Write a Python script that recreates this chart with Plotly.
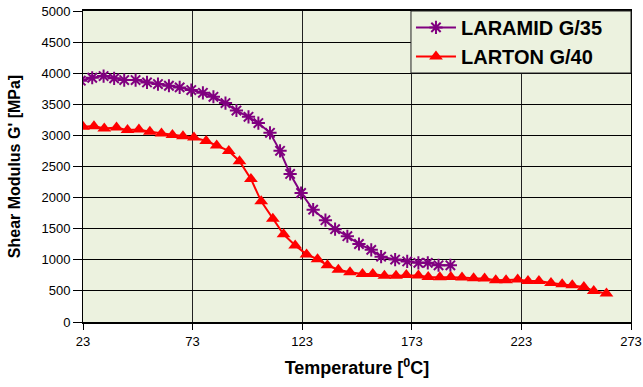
import plotly.graph_objects as go

# LARAMID G/35
laramid_temp = [22, 27.2, 32.4, 37.2, 41.8, 47, 52.2, 57.2, 62.2, 67.1, 72.4, 77.7, 82.5, 88, 93,
                98.5, 103, 108.3, 112.9, 117.5, 122.5, 128, 133.6, 138, 143.6, 148.9, 154.5,
                159, 165.4, 170.9, 176, 180.3, 185.2, 190.6]
laramid_g = [3880, 3927, 3954, 3917, 3890, 3890, 3852, 3825, 3798, 3772, 3729, 3685, 3621, 3520, 3400,
             3299, 3198, 3042, 2752, 2380, 2074, 1806, 1637, 1492, 1379, 1254, 1160,
             1050, 1004, 974, 952, 952, 912, 912]

# LARTON G/40
larton_temp = [23, 28, 32.7, 38.3, 43.3, 48.5, 53.5, 58.8, 63.8, 68.6, 73.6, 79.2, 84, 89.5, 94.4,
               99.6, 104.3, 109.6, 114.5, 119.8, 125, 130, 134.5, 139.5, 144.8, 150.5, 155.2,
               160.5, 165.8, 170.5, 176, 180.5, 185.8, 190.8, 195.9, 201.2, 206.2, 211.3, 216,
               221.3, 226, 231, 236.5, 241.6, 246.2, 251.5, 256, 261.8]
larton_g = [3138, 3149, 3112, 3128, 3085, 3096, 3058, 3032, 3005, 2988, 2968, 2910, 2838, 2750, 2586,
            2300, 1940, 1660, 1411, 1230, 1087, 1010, 912, 840, 800, 770, 770,
            745, 745, 755, 748, 724, 720, 724, 716, 703, 698, 671, 671,
            682, 660, 660, 628, 607, 591, 564, 499, 457]

x_ticks = [23, 73, 123, 173, 223, 273]
y_ticks = [0, 500, 1000, 1500, 2000, 2500, 3000, 3500, 4000, 4500, 5000]

BG = "#ECF2DF"
PURPLE = "#800080"
RED = "#FF0000"
FONT = "Arial, Liberation Sans, sans-serif"

fig = go.Figure()
fig.add_trace(go.Scatter(
    x=laramid_temp, y=laramid_g, name="LARAMID G/35", mode="lines+markers",
    line=dict(color=PURPLE, width=2),
    marker=dict(symbol="asterisk-open", size=11, color=PURPLE, line=dict(color=PURPLE, width=2)),
))
fig.add_trace(go.Scatter(
    x=larton_temp, y=larton_g, name="LARTON G/40", mode="lines+markers",
    line=dict(color=RED, width=2),
    marker=dict(symbol="triangle-up", size=12, color=RED),
))

# legend frame
fig.add_shape(type="rect", xref="paper", yref="paper",
              x0=0.5985, x1=1.0, y0=0.8006, y1=1.0,
              fillcolor=BG, line=dict(color="#222222", width=1), layer="above")

fig.update_layout(
    width=643, height=387,
    autosize=False,
    margin=dict(l=83, r=12, t=11, b=65, autoexpand=False),
    paper_bgcolor="white",
    plot_bgcolor=BG,
    font=dict(family=FONT, size=13, color="black"),
    showlegend=True,
    legend=dict(
        x=0.5985, y=1.01, xanchor="left", yanchor="top",
        bgcolor="rgba(0,0,0,0)", borderwidth=0,
        font=dict(size=20, family=FONT, color="black", weight="bold"),
        itemwidth=40, tracegroupgap=0,
    ),
    xaxis=dict(
        range=[23, 273], tickmode="array", tickvals=x_ticks, ticktext=[str(v) for v in x_ticks],
        showgrid=True, gridcolor="#222222", gridwidth=1,
        showline=True, linecolor="black", linewidth=2, mirror=True,
        ticks="outside", ticklen=6, tickcolor="black",
        zeroline=False, automargin=False,
        title=dict(text="Temperature [<sup>0</sup>C]", font=dict(size=18, weight="bold"), standoff=14),
    ),
    yaxis=dict(
        range=[0, 5000], tickmode="array", tickvals=y_ticks, ticktext=[str(v) for v in y_ticks],
        showgrid=True, gridcolor="black", gridwidth=1,
        showline=True, linecolor="black", linewidth=1, mirror=True,
        ticks="outside", ticklen=9, tickcolor="black",
        zeroline=False, automargin=False,
        title=dict(text="Shear Modulus G' [MPa]", font=dict(size=16, weight="bold"), standoff=16),
    ),
)

fig.write_html("out.html", config={"displayModeBar": False},
               post_script="document.body.style.margin='0px';")
